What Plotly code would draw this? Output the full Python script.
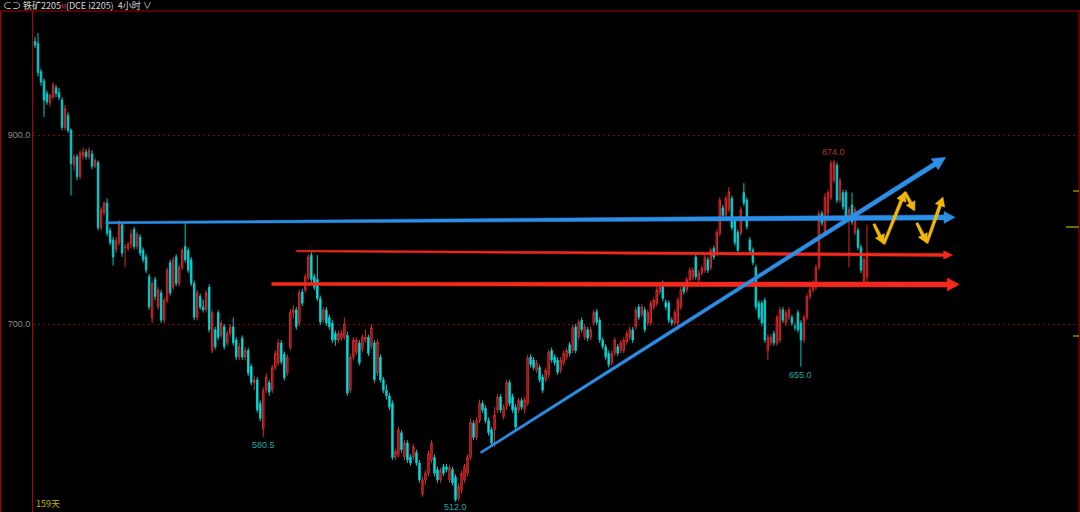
import math
import plotly.graph_objects as go

# ---------------- data ----------------
opens = [999,997,967,957,944,934,940,950,945,937, 908,921,905,868,877,856,878,882,877,880,
         867,871,802,818,828,799,789,779,786,805, 781,780,784,800,782,792,778,771,750,706,
         747,718,733,704,725,765,739,771,743,760, 782,778,768,743,707,729,718,715,739,672,
         694,712,688,697,680,690,697,683,665,685, 665,672,655,638,641,616,589,630,638,630,
         654,659,680,668,648,675,712,715,701,734, 736,749,773,750,747,727,704,715,707,701,
         690,683,685,686,688,630,665,670,680,673, 683,686,676,680,648,665,641,630,624,616,
         559,562,585,559,574,559,559,564,553,520, 535,542,556,559,546,535,549,549,535,546,
         538,516,524,535,542,559,595,580,598,616, 611,598,588,588,609,623,602,612,638,623,
         612,609,619,610,616,665,662,651,654,644, 641,646,672,665,662,651,659,665,678,672,
         697,686,704,686,694,686,701,713,704,683, 676,669,659,669,676,672,672,681,686,694,
         697,718,710,715,701,701,718,722,734,743, 723,722,704,701,701,718,739,736,747,749,
         771,747,754,757,768,760,780,775,796,823, 815,821,833,810,797,796,839,831,789,778,
         760,722,722,725,672,680,690,680,683,715, 701,707,707,697,712,701,683,707,729,736,
         739,760,817,797,817,834,852,868,831,839, 839,810,826,797,799,781,745,750]
highs = [1004,1008,970,960,947,944,956,953,950,940, 932,924,907,880,880,884,886,885,887,884,
         876,873,824,830,833,802,792,792,810,808, 785,787,800,803,798,795,781,774,753,746,
         750,739,736,728,760,768,771,774,763,781, 807,781,771,746,736,732,726,736,742,715,
         697,715,704,700,693,700,707,686,680,688, 676,675,658,645,644,619,633,648,641,657,
         672,684,683,671,668,716,720,718,736,737, 753,774,776,753,773,730,718,718,710,704,
         693,693,694,707,692,668,686,686,683,689, 694,689,700,683,684,668,644,636,627,619,
         568,591,588,577,577,562,573,567,556,538, 545,566,577,562,549,548,552,552,551,549,
         541,531,545,552,562,600,598,601,620,619, 614,601,591,612,626,626,615,641,641,626,
         615,622,622,623,667,668,665,662,657,647, 654,673,675,668,665,665,672,675,681,699,
         700,705,707,700,697,697,715,716,707,686, 679,672,672,686,679,683,686,693,697,697,
         718,721,721,718,715,725,728,739,742,746, 726,725,707,715,728,739,742,750,760,760,
         774,757,762,773,771,781,783,800,834,826, 836,845,836,813,800,824,849,834,792,781,
         763,725,725,728,689,689,693,710,718,718, 715,718,710,701,715,704,710,732,739,746,
         763,820,820,838,842,873,874,871,855,842, 842,824,839,824,802,784,771,805]
lows = [992,962,952,919,932,930,938,940,937,905, 905,902,836,862,852,853,874,874,874,864,
        865,799,799,815,793,783,762,775,783,771, 760,777,780,779,779,772,765,754,715,701,
        725,715,701,701,722,730,736,740,740,757, 765,754,740,704,704,715,712,712,691,669,
        673,683,685,673,677,686,677,662,662,662, 662,645,635,630,606,597,580.5,627,624,627,
        651,656,657,640,645,672,706,694,698,719, 733,746,744,736,724,699,701,698,694,680,
        677,680,682,683,624,627,662,667,656,670, 680,666,673,638,645,638,627,620,609,556,
        556,559,564,556,553,550,556,550,532,517, 530,539,553,539,532,532,539,543,532,529,
        512,513,521,532,539,556,577,577,595,606, 595,582,571,570,606,606,599,609,613,606,
        588,606,609,605,613,654,651,648,638,627, 638,643,659,656,646,648,656,662,666,669,
        669,683,691,683,682,683,698,699,680,673, 662,654,656,666,666,669,669,678,683,680,
        694,704,707,691,698,698,715,719,731,724, 715,701,698,698,698,715,731,733,744,746,
        747,744,751,754,754,757,768,772,793,812, 812,818,799,783,775,793,825,800,775,762,
        715,704,698,680,662,677,677,677,680,701, 698,704,698,693,691,655,680,704,726,733,
        736,757,804,794,814,831,849,828,828,821, 810,760,805,794,778,754,743,743]
closes = [995,966,956,937,935,942,953,944,940,908, 928,905,870,877,856,881,882,877,884,867,
          873,802,821,828,796,786,771,788,806,775, 781,784,795,782,795,775,768,757,718,743,
          729,736,704,725,757,733,768,743,760,778, 768,757,743,707,733,718,715,733,694,712,
          676,686,701,676,690,697,680,665,676,665, 672,648,638,641,609,600,630,644,628,654,
          669,680,660,643,665,712,715,697,733,722, 750,771,747,739,727,702,715,701,697,683,
          683,690,690,700,627,665,683,683,659,686, 686,669,696,641,681,641,630,624,612,559,
          565,588,567,574,556,553,570,553,535,535, 542,563,574,542,535,545,542,546,548,532,
          514,528,542,549,559,596,580,598,616,609, 598,585,574,604,623,609,612,638,616,609,
          591,619,612,620,664,657,654,659,641,630, 651,670,662,659,649,662,669,672,669,696,
          672,702,694,697,685,694,712,702,683,676, 665,657,669,683,669,680,683,690,694,683,
          715,707,718,694,712,722,725,736,739,727, 718,704,701,712,725,736,734,747,757,757,
          750,754,759,770,757,778,771,797,831,815, 833,840,802,786,778,821,828,803,778,765,
          718,707,701,683,686,686,680,707,715,704, 712,715,701,697,694,683,707,729,736,743,
          760,817,807,834,839,870,871,831,852,824, 813,821,808,821,781,757,768,775]

price_ticks = [700, 900]
price_tick_text = ["700.0", "900.0"]

# extreme-value labels: (candle index, price, text)
label_idx = [266, 76, 140, 255]
label_price = [874, 580.5, 512, 655]
label_text = ["874.0", "580.5", "512.0", "655.0"]

# drawn trend lines, data coords (candle index, price): start, arrow tip
blue_flat = [(23.6, 807.2), (306.3, 812.9)]
red_upper = [(87.1, 777.2), (305.5, 773.0)]
red_lower = [(78.8, 742.3), (307.7, 741.8)]
blue_rise = [(148.4, 563.8), (303.2, 876.4)]
yellow_path_1 = [(279.3, 805.8), (282.6, 784.7), (289.6, 839.7), (292.9, 819.6)]
yellow_path_2 = [(293.6, 806.9), (296.9, 785.7), (302.3, 834.4)]

# indicator ticks at the right edge (price levels)
edge_marks = [840.7, 802.6, 687.3]

# ---------------- layout geometry ----------------
W, H = 1080, 512
L_PX, R_PX, T_PX, B_PX = 33, 1079, 11, 512
FIRST_PX, LAST_PX = 35, 867
N = len(closes)
s = (LAST_PX - FIRST_PX) / (N - 1)
xr0 = -(FIRST_PX - L_PX) / s
xr1 = xr0 + (R_PX - L_PX) / s
k = (324 - 135) / 200.0
yr1 = 900 + (135 - T_PX) / k
yr0 = 900 - (B_PX - 135) / k


def to_px(i, p):
    return L_PX + (i - xr0) * s, T_PX + (yr1 - p) * k


def to_data(x, y):
    return xr0 + (x - L_PX) / s, yr1 - (y - T_PX) / k


def arrow_poly(p0, p1, w0, w1, hl, hw):
    x0, y0 = to_px(*p0)
    x1, y1 = to_px(*p1)
    dx, dy = x1 - x0, y1 - y0
    d = math.hypot(dx, dy)
    ux, uy = dx / d, dy / d
    nx, ny = -uy, ux
    bx, by = x1 - ux * hl, y1 - uy * hl
    pts = [(x0 + nx * w0 / 2, y0 + ny * w0 / 2), (bx + nx * w1 / 2, by + ny * w1 / 2),
           (bx + nx * hw, by + ny * hw), (x1, y1), (bx - nx * hw, by - ny * hw),
           (bx - nx * w1 / 2, by - ny * w1 / 2), (x0 - nx * w0 / 2, y0 - ny * w0 / 2)]
    pts.append(pts[0])
    dd = [to_data(px, py) for px, py in pts]
    return [a for a, b in dd], [b for a, b in dd]


fig = go.Figure()
fig.add_trace(go.Candlestick(
    x=list(range(N)), open=opens, high=highs, low=lows, close=closes,
    increasing=dict(line=dict(color="#d42a2a", width=1), fillcolor="#6e1010"),
    decreasing=dict(line=dict(color="#00c8c8", width=1), fillcolor="#00f0f0"),
    whiskerwidth=0, hoverinfo="skip", showlegend=False))


def add_arrow(p0, p1, w0, w1, hl, hw, color):
    xs, ys = arrow_poly(p0, p1, w0, w1, hl, hw)
    fig.add_trace(go.Scatter(x=xs, y=ys, mode="lines", fill="toself", fillcolor=color,
                             line=dict(width=0.5, color=color), hoverinfo="skip",
                             showlegend=False))


add_arrow(red_upper[0], red_upper[1], 1.6, 3.0, 9, 4.2, "#f5281e")
add_arrow(red_lower[0], red_lower[1], 3.0, 5.2, 12, 6.5, "#f5281e")
add_arrow(blue_flat[0], blue_flat[1], 2.0, 5.0, 11, 6.0, "#2b8fe8")
add_arrow(blue_rise[0], blue_rise[1], 2.0, 4.5, 13, 6.5, "#2b8fe8")
for path in (yellow_path_1, yellow_path_2):
    for a, b in zip(path[:-1], path[1:]):
        add_arrow(a, b, 2.5, 3.2, 9, 5.0, "#f2b705")

annotations = []
for i, p, t in zip(label_idx, label_price, label_text):
    top = t == "874.0"
    annotations.append(dict(
        x=i, y=p, xref="x", yref="y", text=t, showarrow=False,
        xanchor="center", yanchor="bottom" if top else "top",
        yshift=1 if top else (2 if p < 530 else -1),
        font=dict(family="Liberation Sans", size=9,
                  color="#b83232" if top else "#1fa8a8")))

annotations.append(dict(
    xref="paper", yref="paper", x=(1 - L_PX) / (R_PX - L_PX), y=1,
    xanchor="left", yanchor="middle", yshift=5.5, showarrow=False,
    text='⊂⊃ 铁矿2205<span style="color:#e03030;font-size:6px">M</span>(DCE i2205)  4小时 ∨',
    font=dict(family="Noto Sans CJK SC", size=9, color="#d8d8d8")))
annotations.append(dict(
    xref="paper", yref="paper", x=0.001, y=0, xanchor="left", yanchor="bottom",
    showarrow=False, text="159天",
    font=dict(family="Noto Sans CJK SC", size=9, color="#c2b800")))

pw = R_PX - L_PX
shapes = [
    dict(type="line", xref="paper", yref="paper", x0=-L_PX / pw, x1=(W - L_PX) / pw,
         y0=1, y1=1, line=dict(color="#b00000", width=1)),
    dict(type="line", xref="paper", yref="paper", x0=(0.5 - L_PX) / pw, x1=(0.5 - L_PX) / pw,
         y0=0, y1=1, line=dict(color="#b00000", width=1)),
    dict(type="line", xref="paper", yref="paper", x0=1, x1=1,
         y0=0, y1=1, line=dict(color="#b00000", width=1)),
]
for lvl, x0px in zip(edge_marks, [1073, 1066, 1073]):
    shapes.append(dict(type="line", xref="paper", yref="y", x0=(x0px - L_PX) / pw, x1=1,
                       y0=lvl, y1=lvl, line=dict(color="#6e6e00", width=2)))

fig.update_layout(
    width=W, height=H, autosize=False,
    margin=dict(l=L_PX, r=W - R_PX, t=T_PX, b=H - B_PX, pad=0),
    paper_bgcolor="#000000", plot_bgcolor="#000000",
    showlegend=False, hovermode=False,
    annotations=annotations, shapes=shapes,
    xaxis=dict(range=[xr0, xr1], showticklabels=False, showgrid=False, zeroline=False,
               rangeslider=dict(visible=False), showline=False, ticks="", fixedrange=True),
    yaxis=dict(range=[yr0, yr1], tickvals=price_ticks, ticktext=price_tick_text,
               tickfont=dict(family="Liberation Sans", size=9, color="#8c8c8c"),
               showgrid=True, gridcolor="#8b0000", gridwidth=1, griddash="2px,3px",
               zeroline=False, showline=True, linecolor="#b00000", linewidth=1,
               ticks="", fixedrange=True),
)

fig.write_html("out.html", config={"displayModeBar": False, "staticPlot": True},
               post_script="document.body.style.margin='0';document.body.style.overflow='hidden';")
